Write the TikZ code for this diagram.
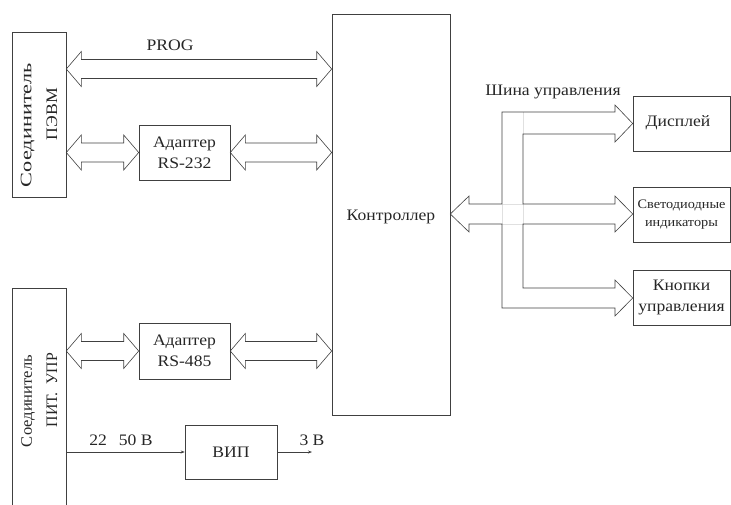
\documentclass[tikz,border=0pt]{standalone}
\usepackage{fontspec}
\setmainfont{Liberation Serif}
\newfontfamily\wideserif[FakeStretch=1.1]{Liberation Serif}
\usetikzlibrary{arrows.meta,calc}
\begin{document}
\begin{tikzpicture}[x=1pt,y=-1pt,
  blk/.style={draw=black!75,line width=0.6pt,inner sep=0pt,align=center,font=\wideserif\fontsize{16}{21}\selectfont,text=black!85},
  fat/.style={draw=black!75,line width=0.6pt,line join=miter},
  ghost/.style={draw=black!12,line width=0.5pt},
  thin/.style={draw=black!75,line width=0.6pt,-{Stealth[length=4pt,width=3pt]}},
  lbl/.style={inner sep=0pt,font=\wideserif\fontsize{16}{21}\selectfont,text=black!85},
  rot/.style={inner sep=0pt,rotate=90,font=\fontsize{16}{20}\selectfont,text=black!85}]
\useasboundingbox (0,0) rectangle (731,504);
\clip (0,0) rectangle (731,504);
% blocks
\node[blk,minimum width=54,minimum height=165] (pevm) at (39,114.5) {};
\node[rot] (pevm1) at (27.5,125) {\resizebox{124pt}{\height}{Соединитель}};
\node[rot] (pevm2) at (52,114) {\resizebox{52pt}{\height}{ПЭВМ}};
\node[blk,minimum width=54,minimum height=240] (pit) at (39,408) {};
\node[rot] (pit1) at (28,401) {\resizebox{92pt}{\height}{Соединитель}};
\node[rot] (pit2) at (52,390) {\resizebox{74pt}{\height}{ПИТ.\ \ УПР}};
\node[blk,minimum width=118,minimum height=401] (ctrl) at (391,214.5) {};
\node[lbl] (ctrlt) at (391,217) {Контроллер};
\node[blk,minimum width=91,minimum height=55] (a232) at (184.5,152.5) {Адаптер\\RS-232};
\node[blk,minimum width=91,minimum height=56] (a485) at (184.5,351) {Адаптер\\RS-485};
\node[blk,minimum width=92,minimum height=54] (vip) at (231,452) {ВИП};
\node[blk,minimum width=97,minimum height=55] (disp) at (681.5,123.5) {};
\node[lbl] (dispt) at (678,123) {Дисплей};
\node[blk,minimum width=97,minimum height=55,font=\wideserif\fontsize{13}{18}\selectfont] (led) at (681.5,214.5) {Светодиодные\\индикаторы};
\node[blk,minimum width=97,minimum height=55] (btn) at (681.5,297.5) {Кнопки\\управления};
% double fat arrows
\newcommand{\fatboth}[2]{%
  \draw[fat] let \p1=#1, \p2=#2 in
   (\x1,\y1) -- (\x1+15pt,\y1+17.5pt) -- (\x1+15pt,\y1+9.5pt) -- (\x2-15pt,\y1+9.5pt)
   -- (\x2-15pt,\y1+17.5pt) -- (\x2,\y1) -- (\x2-15pt,\y1-17.5pt) -- (\x2-15pt,\y1-9.5pt)
   -- (\x1+15pt,\y1-9.5pt) -- (\x1+15pt,\y1-17.5pt) -- cycle;}
\coordinate (yprog) at (0,69);
\fatboth{(pevm.east |- yprog)}{(ctrl.west |- yprog)}
\fatboth{(pevm.east |- a232.west)}{(a232.west)}
\fatboth{(a232.east)}{(ctrl.west |- a232.east)}
\fatboth{(pit.east |- a485.west)}{(a485.west)}
\fatboth{(a485.east)}{(ctrl.west |- a485.east)}
% control bus (faint crossing traces)
\draw[ghost] (523,112) -- (523,134);
\draw[ghost] (502,204) rectangle (523,224);
\draw[fat] (ctrl.east |- 0,214) -- (469,196) -- (469,204) -- (502,204) -- (502,112) -- (615,112)
  -- (615,105) -- (disp.west) -- (615,142) -- (615,134) -- (523,134) -- (523,204)
  -- (615,204) -- (615,196) -- (led.west |- 0,214) -- (615,232) -- (615,224) -- (523,224)
  -- (523,288) -- (615,288) -- (615,280) -- (btn.west |- 0,298) -- (615,316) -- (615,308)
  -- (502,308) -- (502,224) -- (469,224) -- (469,232) -- cycle;
% power
\draw[thin] (pit.east |- vip.west) -- (vip.west);
\coordinate (out) at (312,452);
\draw[thin] (vip.east) -- (out);
% labels
\node[lbl] (lprog) at (170,45) {PROG};
\node[lbl] (lbus) at (553,92) {Шина управления};
\node[lbl] (lin) at (121,440) {22\hspace{12pt}50 В};
\node[lbl] (lout) at (312,440) {3 В};
\end{tikzpicture}
\end{document}
